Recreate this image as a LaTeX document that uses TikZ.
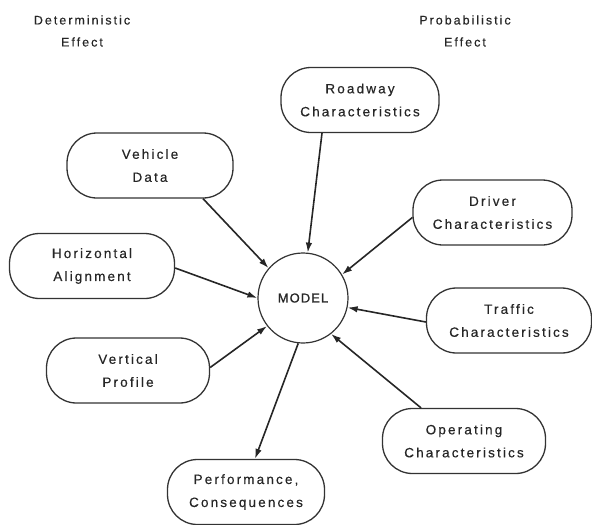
\documentclass[tikz,border=0pt]{standalone}
\usepackage{fontspec}
\setmainfont{Liberation Sans}[LetterSpace=16, FakeBold=0.4]
\newfontfamily\hubfont{Liberation Sans}[LetterSpace=8, FakeBold=0.9]
\usetikzlibrary{arrows.meta,calc}
\begin{document}
\begin{tikzpicture}[x=1pt,y=-1pt,
  every node/.style={font=\fontsize{13.5}{23}\selectfont, text=black!85},
  pill/.style={draw=black!80, line width=1.3pt, rounded corners=30pt,
    minimum width=#1, minimum height=65pt, align=center, inner sep=0pt},
  hub/.style={draw=black!80, line width=1.2pt, circle, minimum size=90pt, inner sep=0pt},
  feed/.style={draw=black!85, line width=1.6pt, -{Latex[length=10pt,width=6.5pt]}},
  caption/.style={align=center, font=\fontsize{12.5}{22}\selectfont}]
\useasboundingbox (0,0) rectangle (592,525);

% side captions
\node[caption] (det)  at (82,31)  {Deterministic\\Effect};
\node[caption] (prob) at (465,31) {Probabilistic\\Effect};

% central model
\node[hub] (model) at (303,298) {\hubfont\fontsize{13}{15}\selectfont MODEL};

% input and output boxes
\node[pill=158pt] (road) at (360,100)   {Roadway\\Characteristics};
\node[pill=166pt] (veh)  at (150,165.5) {Vehicle\\Data};
\node[pill=159pt] (drv)  at (492.5,212.5) {Driver\\Characteristics};
\node[pill=165pt] (hor)  at (92,266)    {Horizontal\\Alignment};
\node[pill=165pt] (trf)  at (509,320.5) {Traffic\\Characteristics};
\node[pill=163pt] (ver)  at (128,370.5) {Vertical\\Profile};
\node[pill=163pt] (opr)  at (464,441)   {Operating\\Characteristics};
\node[pill=157pt] (perf) at (246,492)   {Performance,\\Consequences};

% connectors
\draw[feed] ($(veh.south)+(53,0)$) -- (model.139);
\draw[feed] ($(road.south)+(-38,0)$) -- (model.84);
\draw[feed] ($(drv.west)+(0,5)$) -- (model.31);
\draw[feed] ($(trf.west)+(0,1.5)$) -- (model.-12);
\draw[feed] ($(opr.north)+(-43,0)$) -- (model.-52);
\draw[feed] ($(hor.east)+(0,2)$) -- (model.180);
\draw[feed] ($(ver.east)+(0,-3)$) -- (model.218);
\draw[feed] (model.-96) -- ($(perf.north)+(9,0)$);
\end{tikzpicture}
\end{document}
